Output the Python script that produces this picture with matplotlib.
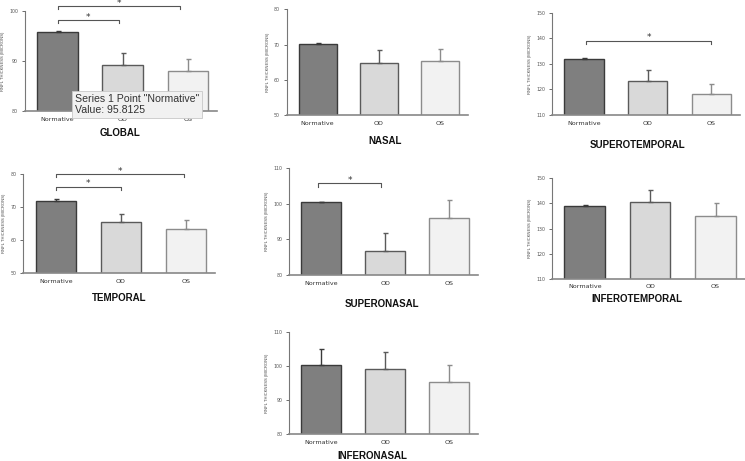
import numpy as np
import matplotlib
matplotlib.use('Agg')
import matplotlib.pyplot as plt

groups = ['Normative', 'OD', 'OS']
regions = ['GLOBAL', 'NASAL', 'SUPEROTEMPORAL', 'TEMPORAL',
           'SUPERONASAL', 'INFEROTEMPORAL', 'INFERONASAL']

global_mean = [95.8, 89.1, 88.0]
global_err = [0.1, 2.4, 2.3]
nasal_mean = [70.1, 64.9, 65.4]
nasal_err = [0.2, 3.5, 3.2]
supt_mean = [132.0, 123.2, 118.3]
supt_err = [0.3, 4.2, 3.9]
temp_mean = [72.0, 65.6, 63.4]
temp_err = [0.6, 2.3, 2.8]
supn_mean = [100.3, 86.9, 96.1]
supn_err = [0.2, 4.8, 5.0]
inft_mean = [139.1, 140.5, 135.1]
inft_err = [0.4, 4.7, 4.9]
infn_mean = [100.3, 99.1, 95.3]
infn_err = [4.7, 4.9, 5.1]

means = [global_mean, nasal_mean, supt_mean, temp_mean, supn_mean, inft_mean, infn_mean]
errs = [global_err, nasal_err, supt_err, temp_err, supn_err, inft_err, infn_err]
ylims = [(80, 100), (50, 80), (110, 150), (50, 80), (80, 110), (110, 150), (80, 110)]
yticks = [[80, 90, 100], [50, 60, 70, 80], [110, 120, 130, 140, 150], [50, 60, 70, 80],
          [80, 90, 100, 110], [110, 120, 130, 140, 150], [80, 90, 100, 110]]

# significance brackets: (x0, x1, y)
brackets = {
    'GLOBAL': [(0.0, 0.94, 98.1), (0.0, 1.88, 100.9)],
    'TEMPORAL': [(0.0, 1.0, 76.2), (0.0, 1.97, 80.0)],
    'SUPEROTEMPORAL': [(0.04, 2.0, 139.1)],
    'SUPERONASAL': [(-0.05, 0.94, 105.6)],
}

# pixel boxes: left, right, top, bottom
W, H = 745, 461
boxes = [(25, 217, 11, 111), (287, 468, 9.3, 115), (552, 740, 12.7, 115),
         (23.3, 215, 174.3, 273.3), (289.3, 478, 167.7, 275.3),
         (552, 745, 178.3, 278.7), (289.3, 478, 331.7, 434.3)]
title_pos = [(120, 133), (385, 141), (637, 145), (119, 298), (382, 304), (637, 299), (372, 456)]

fills = ['#7f7f7f', '#d9d9d9', '#f2f2f2']
edges = ['#3a3a3a', '#5a5a5a', '#8c8c8c']

fig = plt.figure(figsize=(W / 100, H / 100), dpi=100)

for i, reg in enumerate(regions):
    l, r, t, b = boxes[i]
    ax = fig.add_axes([l / W, 1 - b / H, (r - l) / W, (b - t) / H])
    x = np.arange(3)
    for j in range(3):
        ax.bar(x[j], means[i][j], width=0.62, color=fills[j], edgecolor=edges[j],
               linewidth=1.0, zorder=2)
        ax.errorbar(x[j], means[i][j], yerr=[[0], [errs[i][j]]], fmt='none',
                    ecolor=edges[j], elinewidth=1.0, capsize=1.8, capthick=1.0, zorder=3)
    lo, hi = ylims[i]
    ax.set_ylim(lo, hi)
    ax.set_xlim(-0.5, 2.45)
    ax.set_yticks(yticks[i])
    ax.set_xticks(x)
    ax.set_xticklabels(groups)
    ax.tick_params(axis='x', length=0, pad=4, labelsize=4.6, colors='#333333')
    ax.tick_params(axis='y', length=2, width=0.6, pad=3, labelsize=3.4,
                   colors='#555555', direction='out')
    for s in ['top', 'right']:
        ax.spines[s].set_visible(False)
    ax.spines['left'].set_color('#777777')
    ax.spines['bottom'].set_color('#888888')
    ax.spines['left'].set_linewidth(0.8)
    ax.spines['bottom'].set_linewidth(1.2)
    ax.set_ylabel('RNFL THICKNESS (MICRONS)', fontsize=3.0, color='#444444',
                  family='Liberation Sans', labelpad=3)
    tick = (hi - lo) * 0.03
    for x0, x1, y in brackets.get(reg, []):
        ax.plot([x0, x0, x1, x1], [y - tick, y, y, y - tick], color='#555555',
                linewidth=0.8, clip_on=False, zorder=4)
        ax.annotate('*', xy=((x0 + x1) / 2, y), xytext=(0, 2.2),
                    textcoords='offset points', ha='center', va='center',
                    fontsize=6.5, color='#333333', annotation_clip=False)
    tx, ty = title_pos[i]
    fig.text(tx / W, 1 - ty / H, reg, ha='center', va='center', fontsize=7,
             fontweight='bold', family='Liberation Sans', color='#111111')

# tooltip over the GLOBAL panel
fig.text(75 / W, 1 - 104.5 / H, 'Series 1 Point "Normative"\nValue: 95.8125',
         ha='left', va='center', fontsize=7.6, family='Liberation Sans',
         color='#333333', linespacing=1.15, zorder=10,
         bbox=dict(boxstyle='square,pad=0.3', facecolor='#f1f1f1',
                   edgecolor='#c8c8c8', linewidth=0.6))

fig.savefig('out.png', dpi=100)
